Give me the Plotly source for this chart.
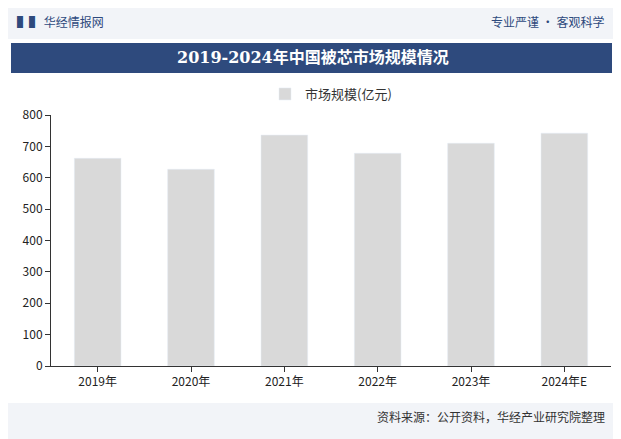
import plotly.graph_objects as go

years = ["2019年", "2020年", "2021年", "2022年", "2023年", "2024年E"]
market_size = [662, 627, 736, 678, 710, 742]
series_name = "市场规模(亿元)"

W, H = 621, 439
OFF = 7  # page offset seen in the screenshot
L, R, T, B = 50 - OFF, 11 + OFF, 114 - OFF, 74 + OFF
PW, PH = W - L - R, H - T - B


def px(x):
    return (x - OFF - L) / PW


def py(y):
    return (H - B - (y - OFF)) / PH


fig = go.Figure()
fig.add_trace(go.Bar(
    x=years, y=market_size, name=series_name,
    marker_color="#d9d9d9", width=0.5,
))

font = "Noto Sans CJK SC"
shapes = [
    dict(type="rect", xref="paper", yref="paper", x0=px(0), x1=px(W),
         y0=py(38), y1=py(0), fillcolor="#f2f4f8", line_width=0, layer="below"),
    dict(type="rect", xref="paper", yref="paper", x0=px(10), x1=px(W - 10),
         y0=py(72), y1=py(42), fillcolor="#2e4a7d", line_width=0, layer="below"),
    dict(type="rect", xref="paper", yref="paper", x0=px(0), x1=px(W),
         y0=py(H), y1=py(402), fillcolor="#f2f4f8", line_width=0, layer="below"),
]

fig.update_layout(
    width=W, height=H,
    margin=dict(l=L, r=R, t=T, b=B, autoexpand=False),
    paper_bgcolor="white", plot_bgcolor="white",
    font=dict(family=font, size=12, color="#333"),
    showlegend=True,
    legend=dict(orientation="h", x=0.5, xanchor="center", y=py(78), yanchor="top",
                font=dict(size=13, color="#333"), bgcolor="rgba(0,0,0,0)"),
    xaxis=dict(showline=True, linecolor="#333", ticks="outside", tickcolor="#333",
               ticklen=5, tickfont=dict(size=12, color="#222")),
    yaxis=dict(range=[0, 800], dtick=100, showgrid=False, showline=True,
               linecolor="#333", ticks="outside", tickcolor="#333", ticklen=5,
               tickfont=dict(size=12, color="#222")),
    shapes=shapes,
    annotations=[
        dict(text="<b>2019-2024年中国被芯市场规模情况</b>", xref="paper", yref="paper",
             x=px(312), y=py(57), xanchor="center", yanchor="middle", showarrow=False,
             font=dict(size=16, color="white", family="DejaVu Serif, Noto Sans CJK SC")),
        dict(text="<b>▌▌</b> 华经情报网", xref="paper", yref="paper", x=px(14), y=py(20),
             xanchor="left", yanchor="middle", showarrow=False,
             font=dict(size=12, color="#2e4a7d")),
        dict(text="专业严谨 • 客观科学", xref="paper", yref="paper", x=px(605), y=py(20),
             xanchor="right", yanchor="middle", showarrow=False,
             font=dict(size=12, color="#2e4a7d")),
        dict(text="资料来源：公开资料，华经产业研究院整理", xref="paper", yref="paper",
             x=px(606), y=py(415), xanchor="right", yanchor="middle", showarrow=False,
             font=dict(size=12, color="#333")),
    ],
)

fig.write_html("out.html")
